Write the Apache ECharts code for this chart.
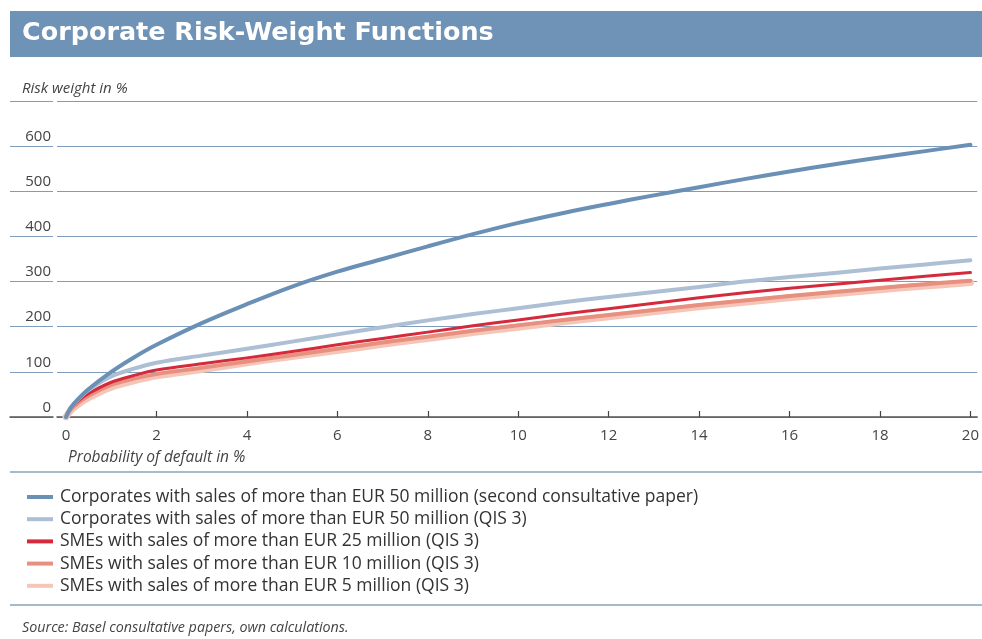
<!DOCTYPE html>
<html>
<head>
<meta charset="utf-8">
<script src="https://cdn.jsdelivr.net/npm/echarts@6/dist/echarts.min.js"></script>
<style>
html,body{margin:0;padding:0;background:#fff;}
#c{width:982px;height:639px;}
</style>
</head>
<body>
<div id="c"></div>
<script>
// Probability of default in %
const pd = [0, 0.1, 0.25, 0.5, 1, 1.5, 2, 3, 4, 5, 6, 7, 8, 9, 10, 11, 12, 13, 14, 15, 16, 17, 18, 19, 20];
// Risk weights in %
const corpCP2  = [0, 20, 38, 62, 100, 132, 160, 208, 250, 289, 322, 350, 378, 405, 430, 452, 472, 491, 509, 527, 544, 560, 575, 589, 603];
const corpQIS3 = [0, 20, 37, 60, 90, 107, 120, 136, 151, 167, 183, 199, 214, 228, 241, 254, 266, 277, 288, 300, 310, 319, 329, 338, 347];
const sme25    = [0, 19, 34, 52, 77, 92, 104, 118, 131, 145, 160, 174, 188, 202, 215, 228, 240, 252, 264, 275, 285, 294, 303, 312, 320];
const sme10    = [0, 16, 30, 47, 71, 85, 95, 109, 123, 137, 151, 165, 178, 191, 203, 215, 226, 237, 248, 258, 268, 277, 286, 294, 302];
const sme5     = [0, 14, 27, 43, 66, 80, 91, 105, 120, 134, 147, 161, 174, 187, 199, 211, 222, 233, 244, 254, 264, 273, 282, 290, 298];

const seriesNames = [
  'Corporates with sales of more than EUR 50 million (second consultative paper)',
  'Corporates with sales of more than EUR 50 million (QIS 3)',
  'SMEs with sales of more than EUR 25 million (QIS 3)',
  'SMEs with sales of more than EUR 10 million (QIS 3)',
  'SMEs with sales of more than EUR 5 million (QIS 3)'
];
const xTicks = [2, 4, 6, 8, 10, 12, 14, 16, 18, 20];
const xLabels = [0, 2, 4, 6, 8, 10, 12, 14, 16, 18, 20];

const colors = ['#6b90b6', '#adbfd4', '#d42a3b', '#e8907f', '#f5c6b8'];
const widths = [4, 4, 3, 4, 7];
const zs = [5, 4, 3, 2, 1];
const values = [corpCP2, corpQIS3, sme25, sme10, sme5];

const font = '"Open Sans", Lato, sans-serif';
const gridColor = '#7f9cba';

const chart = echarts.init(document.getElementById('c'), null, {renderer: 'canvas'});
const series = values.map((v, i) => ({
  name: seriesNames[i],
  type: 'line',
  xAxisIndex: 0, yAxisIndex: 0,
  data: pd.map((x, j) => [x, v[j]]),
  smooth: 0.35,
  showSymbol: false,
  symbol: 'none',
  z: zs[i],
  lineStyle: {color: colors[i], width: widths[i], cap: 'round', join: 'round'},
  itemStyle: {color: colors[i]},
  animation: false
}));

chart.setOption({
  animation: false,
  textStyle: {fontFamily: font},
  grid: [
    {left: 57, right: 0, top: 101, bottom: 222},
    {left: 10, width: 43, top: 101, bottom: 222}
  ],
  xAxis: [
    {
      type: 'value', gridIndex: 0, min: -0.2, max: 20.15,
      axisLine: {show: true, onZero: false, lineStyle: {color: '#555', width: 1.5}},
      axisTick: {show: true, inside: true, length: 6, customValues: xTicks, lineStyle: {color: '#444', width: 1.2}},
      axisLabel: {customValues: xLabels, color: '#444', fontSize: 15, margin: 11, fontFamily: font},
      splitLine: {show: false}
    },
    {
      type: 'value', gridIndex: 1, min: 0, max: 1,
      axisLine: {show: true, lineStyle: {color: '#555', width: 1.5}},
      axisTick: {show: false}, axisLabel: {show: false}, splitLine: {show: false}
    }
  ],
  yAxis: [
    {
      type: 'value', gridIndex: 0, min: 0, max: 700, interval: 100,
      axisLine: {show: false}, axisTick: {show: false},
      axisLabel: {
        color: '#444', fontSize: 15, margin: 6, verticalAlign: 'bottom', lineHeight: 15,
        padding: [0, 0, 2, 0], fontFamily: font,
        formatter: v => (v === 700 ? '' : String(v))
      },
      splitLine: {show: true, lineStyle: {color: gridColor, width: 1}}
    },
    {
      type: 'value', gridIndex: 1, min: 0, max: 700, interval: 100,
      axisLine: {show: false}, axisTick: {show: false}, axisLabel: {show: false},
      splitLine: {show: true, lineStyle: {color: gridColor, width: 1}}
    }
  ],
  legend: {
    orient: 'vertical', left: 22, top: 483,
    itemWidth: 26, itemHeight: 4, itemGap: 4.2, icon: 'rect',
    textStyle: {color: '#333', fontSize: 17.5, lineHeight: 17.5, fontFamily: font, padding: [0, 0, 0, 2]},
    data: seriesNames
  },
  series: series,
  graphic: [
    {type: 'rect', shape: {x: 10, y: 11, width: 972, height: 46}, style: {fill: '#6f93b6'}, silent: true},
    {type: 'text', x: 22, y: 34, scaleX: 1.06, style: {text: 'Corporate Risk-Weight Functions', fill: '#fff', font: 'bold 24px "DejaVu Sans", sans-serif', verticalAlign: 'middle'}},
    {type: 'text', x: 934, y: -9, style: {text: 'Chart 5', fill: '#444', font: '12px ' + font}},
    {type: 'text', x: 22, y: 89, style: {text: 'Risk weight in %', fill: '#444', font: 'italic 15px ' + font, verticalAlign: 'middle'}},
    {type: 'text', x: 68, y: 458, style: {text: 'Probability of default in %', fill: '#444', font: 'italic 15.5px ' + font, verticalAlign: 'middle'}},
    {type: 'line', shape: {x1: 10, y1: 472, x2: 982, y2: 472}, style: {stroke: '#a6bace', lineWidth: 2}},
    {type: 'line', shape: {x1: 10, y1: 605, x2: 982, y2: 605}, style: {stroke: '#a6bace', lineWidth: 2}},
    {type: 'text', x: 22, y: 628, style: {text: 'Source: Basel consultative papers, own calculations.', fill: '#444', font: 'italic 14.3px ' + font, verticalAlign: 'middle'}}
  ]
});
</script>
</body>
</html>
